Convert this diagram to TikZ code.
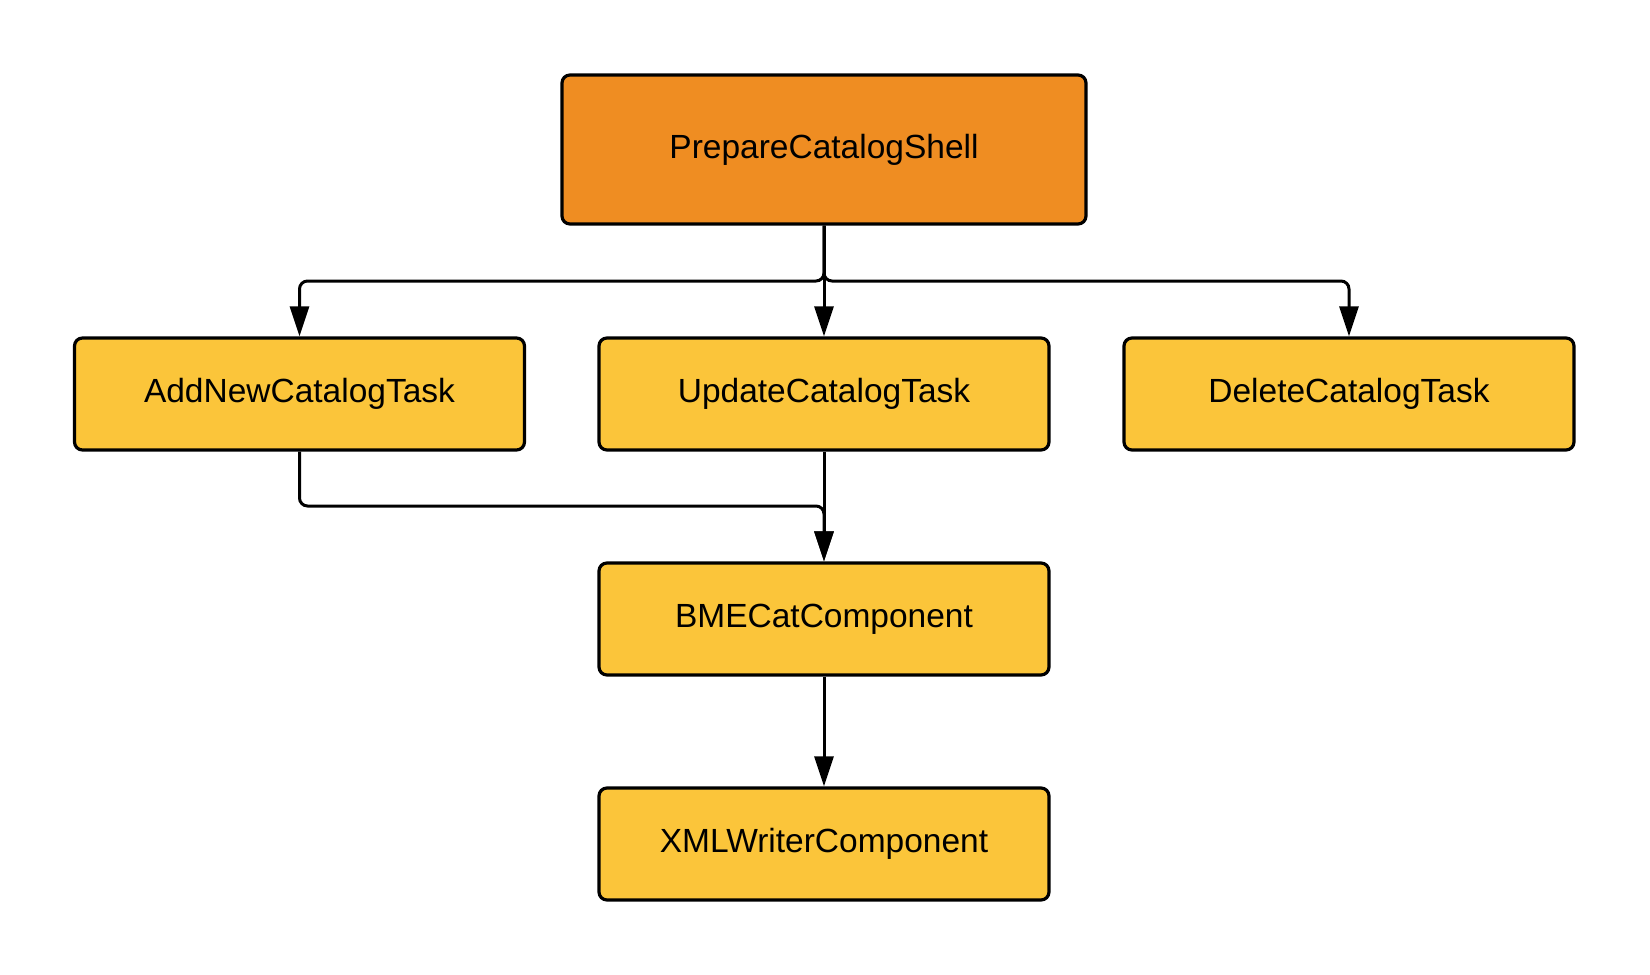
\documentclass[tikz,border=0pt]{standalone}
\usepackage{fontspec}
\setmainfont{Liberation Sans}
\usetikzlibrary{arrows.meta}
\definecolor{boxorange}{HTML}{EF8D22}
\definecolor{boxyellow}{HTML}{FBC53A}
\tikzset{
  x=1pt, y=-1pt,
  box/.style={draw=black, line width=3.2pt, rounded corners=8pt, fill=boxyellow,
    minimum width=450pt, minimum height=112pt, inner sep=0pt,
    font=\fontsize{33.5}{38}\selectfont, text=black},
  topbox/.style={box, fill=boxorange, minimum width=524pt, minimum height=149pt},
  conn/.style={line width=3pt, rounded corners=8pt,
    -{Triangle[length=30pt,width=19pt]}}
}
\begin{document}
\begin{tikzpicture}
\useasboundingbox (0,0) rectangle (1650,975);
\node[topbox] (P) at (824,149.5) {PrepareCatalogShell};
\node[box] (A) at (299.5,394) {AddNewCatalogTask};
\node[box] (U) at (824,394) {UpdateCatalogTask};
\node[box] (D) at (1349,394) {DeleteCatalogTask};
\node[box] (B) at (824,619) {BMECatComponent};
\node[box] (X) at (824,844) {XMLWriterComponent};
\draw[conn] (P.south) |- (560,281) -| (A.north);
\draw[conn] (P.south) |- (1100,281) -| (D.north);
\draw[conn] (P.south) -- (U.north);
\draw[conn] (A.south) |- (600,506) -| (B.north);
\draw[conn] (U.south) -- (B.north);
\draw[conn] (B.south) -- (X.north);
\end{tikzpicture}
\end{document}
